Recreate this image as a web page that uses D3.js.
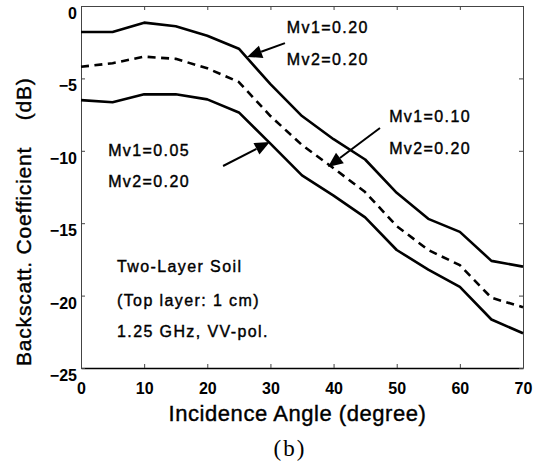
<!DOCTYPE html>
<html>
<head>
<meta charset="utf-8">
<script src="https://cdn.jsdelivr.net/npm/d3@7"></script>
<style>
  html, body { margin: 0; padding: 0; background: #fff; }
  svg { display: block; }
  text { font-family: "Liberation Sans", Arial, Helvetica, sans-serif; fill: #000; }
  .heavy { stroke: #000; stroke-width: 0.4px; }
</style>
</head>
<body>
<svg id="chart" width="533" height="461"></svg>
<script>
// ---- data ----
const angles = [0, 5, 10, 15, 20, 25, 30, 35, 40, 45, 50, 55, 60, 65, 70];
const mv020 = [-1.8, -1.8, -1.15, -1.4, -2.05, -2.95, -5.4, -7.6, -9.2, -10.6, -12.9, -14.7, -15.6, -17.6, -18.0];
const mv010 = [-4.2, -3.95, -3.5, -3.65, -4.3, -5.25, -7.6, -9.6, -11.2, -12.85, -15.2, -16.85, -17.9, -20.15, -20.8];
const mv005 = [-6.5, -6.65, -6.1, -6.1, -6.45, -7.35, -9.5, -11.7, -13.1, -14.6, -16.85, -18.2, -19.4, -21.65, -22.6];
const xTicks = [0, 10, 20, 30, 40, 50, 60, 70];
const yTicks = [0, -5, -10, -15, -20, -25];
const seriesNames = ["Mv1=0.20", "Mv1=0.10", "Mv1=0.05"];
// annotation labels (data units: angle, dB)
const labelTexts = ["Mv1=0.20", "Mv2=0.20", "Mv1=0.10", "Mv2=0.20", "Mv1=0.05", "Mv2=0.20"];
const labelAngles = [32.6, 32.6, 48.8, 48.8, 4.3, 4.3];
const labelDB = [-1.45, -3.66, -7.6, -9.8, -9.94, -12.09];
const noteTexts = ["Two-Layer Soil", "(Top layer: 1 cm)", "1.25 GHz, VV-pol."];
const noteAngles = [5.7, 5.7, 5.7];
const noteDB = [-17.96, -20.3, -22.5];
// arrows: tail -> tip (data units)
const arrowTail = [[32.3, -2.56], [47.35, -8.43], [22.5, -11.05]];
const arrowTip = [[26.3, -3.52], [39.1, -11.12], [29.9, -9.39]];

// ---- chart ----
const svg = d3.select("#chart");
svg.append("rect").attr("width", 533).attr("height", 461).attr("fill", "#fff");

const x = d3.scaleLinear().domain([0, 70]).range([81, 523]);
const y = d3.scaleLinear().domain([-25, 0]).range([368, 6]);

// axes (ticks inward on all sides)
const gB = svg.append("g").attr("transform", `translate(0,${y(-25)})`)
  .call(d3.axisBottom(x).tickValues(xTicks).tickSize(-4).tickSizeOuter(0));
gB.selectAll("text").attr("y", 26).attr("dy", 0)
  .style("font-size", "16px").style("font-weight", "bold");
gB.select(".domain").attr("stroke", "#000").attr("stroke-width", 1.5);

const gL = svg.append("g").attr("transform", `translate(${x(0)},0)`)
  .call(d3.axisLeft(y).tickValues(yTicks).tickSize(-4).tickSizeOuter(0).tickPadding(4));
gL.selectAll("text").attr("dy", 12.5)
  .style("font-size", "16px").style("font-weight", "bold");

const gT = svg.append("g").attr("transform", `translate(0,${y(0)})`)
  .call(d3.axisTop(x).tickValues(xTicks).tickSize(-4).tickSizeOuter(0).tickFormat(""));
const gR = svg.append("g").attr("transform", `translate(${x(70)},0)`)
  .call(d3.axisRight(y).tickValues(yTicks).tickSize(-4).tickSizeOuter(0).tickFormat(""));

[gL, gT, gR].forEach(g => g.select(".domain").attr("stroke", "#444").attr("stroke-width", 1));
[gB, gL, gT, gR].forEach(g => g.selectAll(".tick line").attr("stroke", "#444").attr("stroke-width", 1));

// series lines
const line = d3.line().x((d, i) => x(angles[i])).y(d => y(d));
const series = [mv020, mv010, mv005];
svg.append("g").selectAll("path").data(series).join("path")
  .attr("d", d => line(d))
  .attr("fill", "none")
  .attr("stroke", "#000")
  .attr("stroke-width", 2.6)
  .attr("stroke-linejoin", "round")
  .attr("stroke-dasharray", (d, i) => i === 1 ? "8,5.5" : null)
  .append("title").text((d, i) => seriesNames[i]);

// arrows
const ag = svg.append("g");
arrowTail.forEach((t, i) => {
  const x1 = x(t[0]), y1 = y(t[1]);
  const x2 = x(arrowTip[i][0]), y2 = y(arrowTip[i][1]);
  const dx = x2 - x1, dy = y2 - y1, L = Math.hypot(dx, dy);
  const ux = dx / L, uy = dy / L;
  const hl = 15, hw = 6.5;
  const bx = x2 - ux * hl, by = y2 - uy * hl;
  ag.append("line").attr("x1", x1).attr("y1", y1).attr("x2", bx).attr("y2", by)
    .attr("stroke", "#000").attr("stroke-width", 2);
  ag.append("path")
    .attr("d", `M${x2},${y2}L${bx - uy * hw},${by + ux * hw}L${bx + uy * hw},${by - ux * hw}Z`)
    .attr("fill", "#000");
});

// annotation labels
svg.append("g").selectAll("text").data(labelTexts).join("text")
  .attr("class", "heavy")
  .attr("x", (d, i) => x(labelAngles[i]))
  .attr("y", (d, i) => y(labelDB[i]))
  .attr("dy", "0.35em")
  .style("font-size", "16px")
  .style("letter-spacing", "1.4px")
  .text(d => d);

svg.append("g").selectAll("text").data(noteTexts).join("text")
  .attr("class", "heavy")
  .attr("x", (d, i) => x(noteAngles[i]))
  .attr("y", (d, i) => y(noteDB[i]))
  .attr("dy", "0.35em")
  .style("font-size", "16px")
  .style("letter-spacing", "1.4px")
  .text(d => d);

// axis titles
svg.append("text")
  .attr("class", "heavy")
  .attr("x", 297.5).attr("y", 413).attr("dy", "0.35em")
  .attr("text-anchor", "middle")
  .style("font-size", "22px").style("letter-spacing", "0.55px")
  .text("Incidence Angle (degree)");

svg.append("text")
  .attr("class", "heavy")
  .attr("transform", "translate(24,366) rotate(-90)")
  .attr("dy", "0.35em")
  .attr("xml:space", "preserve")
  .style("white-space", "pre")
  .style("font-size", "21px").style("letter-spacing", "0.8px")
  .text("Backscatt. Coefficient    (dB)");

svg.append("text")
  .attr("x", 290).attr("y", 448).attr("dy", "0.35em")
  .attr("text-anchor", "middle")
  .style("font-family", "'Liberation Serif', 'Times New Roman', serif")
  .style("font-size", "23px").style("letter-spacing", "2px")
  .text("(b)");
</script>
</body>
</html>
